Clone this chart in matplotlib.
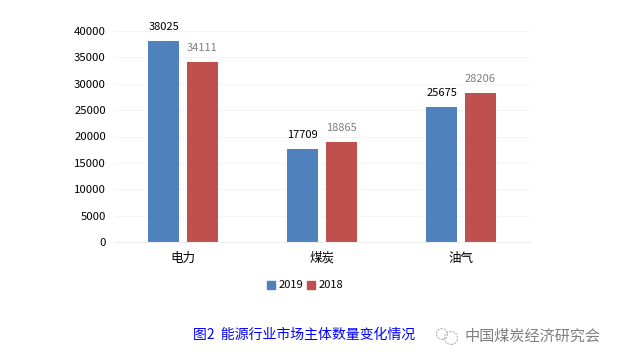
import numpy as np
import matplotlib
matplotlib.use("Agg")
import matplotlib.pyplot as plt
from matplotlib.patches import Circle, Rectangle

plt.rcParams['font.family'] = ['Noto Sans CJK SC', 'DejaVu Sans']

categories = ['电力', '煤炭', '油气']
v2019 = [38025, 17709, 25675]
v2018 = [34111, 18865, 28206]
yticks = [0, 5000, 10000, 15000, 20000, 25000, 30000, 35000, 40000]

W, H = 619, 362
fig = plt.figure(figsize=(W/100, H/100), dpi=100)
# axes placed in pixels from the reference
ax = fig.add_axes([113.5/W, 1-242/H, 417/W, 211/H])

x = np.arange(len(categories))
bw = 0.223
off = 0.14
b1 = ax.bar(x-off, v2019, bw, color='#4F81BD', label='2019')
b2 = ax.bar(x+off, v2018, bw, color='#C0504D', label='2018')

for xi, v in zip(x-off, v2019):
    ax.annotate(str(v), (xi, v), xytext=(0, 6.5), textcoords='offset points',
                ha='center', va='bottom', fontsize=8, color='black')
for xi, v in zip(x+off, v2018):
    ax.annotate(str(v), (xi, v), xytext=(0, 6.5), textcoords='offset points',
                ha='center', va='bottom', fontsize=8, color='#7f7f7f')

ax.set_xlim(-0.5, 2.5)
ax.set_ylim(0, 40000)
ax.set_yticks(yticks)
ax.set_xticks(x)
ax.set_xticklabels(categories, fontsize=9)
ax.tick_params(axis='both', length=0)
ax.tick_params(axis='y', labelsize=8.2, pad=5.5)
ax.tick_params(axis='x', pad=7)
ax.grid(axis='y', color='#f5f5f5', linewidth=0.8)
ax.set_axisbelow(True)
for s in ['top', 'right', 'left']:
    ax.spines[s].set_visible(False)
ax.spines['bottom'].set_color('#eeeeee')

# legend by hand so that the squares sit where they do in the reference
fig.add_artist(Rectangle((267/W, 1-289/H), 8/W, 8/H, color='#4F81BD', transform=fig.transFigure))
fig.add_artist(Rectangle((307/W, 1-289/H), 8/W, 8/H, color='#C0504D', transform=fig.transFigure))
fig.text(279/W, 1-285/H, '2019', fontsize=8, va='center', ha='left')
fig.text(319/W, 1-285/H, '2018', fontsize=8, va='center', ha='left')

# caption and watermark
fig.text(193/W, 1-335/H, '图2  能源行业市场主体数量变化情况', fontsize=10, color='#0000ff',
         va='center', ha='left')
fig.text(465/W, 1-336/H, '中国煤炭经济研究会', fontsize=10.9, color='#808080',
         va='center', ha='left')
for cx, cy, r in [(442, 334, 5.5), (451, 338, 6.5)]:
    fig.add_artist(Circle((cx, H-cy), r, fill=False, edgecolor='#b5b5b5', linewidth=0.8,
                          linestyle=(0, (2, 1)), transform=None))

fig.savefig('out.png', dpi=100)
